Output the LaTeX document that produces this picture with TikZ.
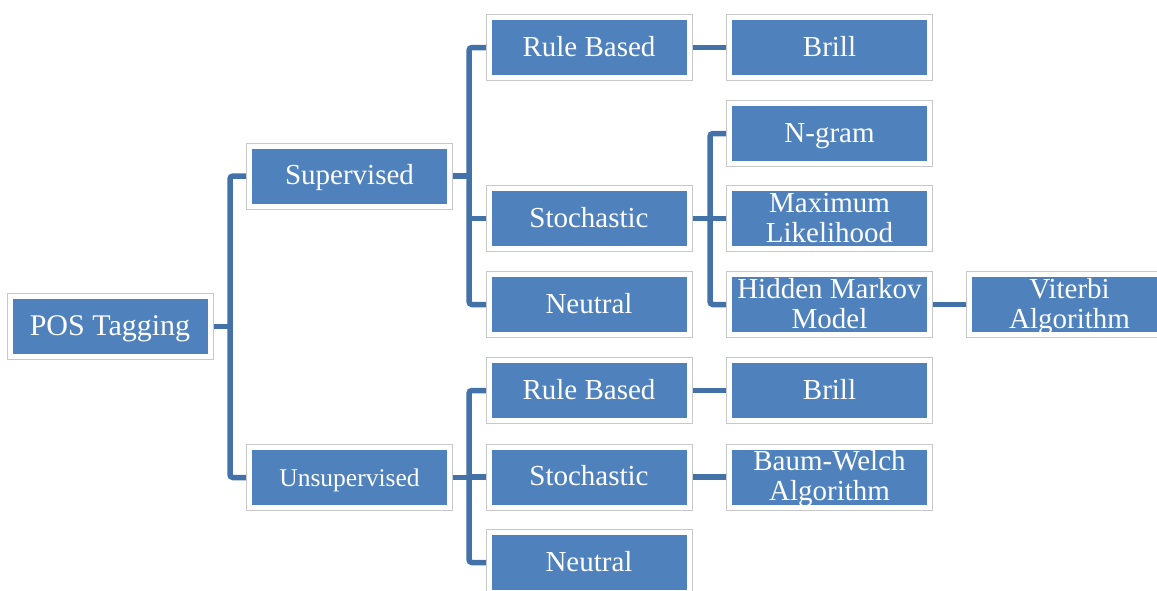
\documentclass[tikz,border=0pt]{standalone}
\usepackage{fontspec}
\setmainfont{Liberation Serif}
\usetikzlibrary{backgrounds}
\definecolor{boxblue}{RGB}{79,129,189}
\definecolor{linkblue}{RGB}{66,114,168}
\definecolor{framegray}{RGB}{200,200,200}
\begin{document}
\begin{tikzpicture}[x=1pt,y=-1pt,
  box/.style={rectangle, fill=boxblue, draw=white, line width=5pt,
    preaction={draw=framegray, line width=7pt},
    minimum width=200pt, minimum height=60pt, inner sep=0pt,
    text=white, align=center, font=\fontsize{29}{30}\selectfont},
  one/.style={text height=23pt, text depth=6pt},
  two/.style={text height=47pt, text depth=0pt},
  conn/.style={draw=linkblue, line width=5.5pt, rounded corners=3pt}]
\useasboundingbox (0,0) rectangle (1157,590);
\clip (0,0) rectangle (1157,590);
% trunk positions
\coordinate (t1) at (230,0);
\coordinate (t2) at (469,0);
\coordinate (t3) at (710,0);
% nodes
\node[box, one, font=\fontsize{30}{30}\selectfont] (pos) at (110,326.5) {POS Tagging};
\node[box, one] (sup) at (349.5,176) {Supervised};
\node[box, one, font=\fontsize{25.5}{26}\selectfont] (uns) at (349.5,477.5) {Unsupervised};
\node[box, one] (rb1) at (589,47.5) {Rule Based};
\node[box, one] (st1) at (589,218.5) {Stochastic};
\node[box, one] (ne1) at (589,304.5) {Neutral};
\node[box, one] (rb2) at (589,390.5) {Rule Based};
\node[box, one] (st2) at (589,477) {Stochastic};
\node[box, one] (ne2) at (589,562.5) {Neutral};
\node[box, one] (br1) at (829.5,47.5) {Brill};
\node[box, one] (ngr) at (829.5,133.5) {N-gram};
\node[box, two] (mle) at (829.5,218.5) {Maximum\\Likelihood};
\node[box, two] (hmm) at (829.5,304.5) {Hidden Markov\\Model};
\node[box, one] (br2) at (829.5,390.5) {Brill};
\node[box, two] (bwa) at (829.5,477) {Baum-Welch\\Algorithm};
\node[box, two] (vit) at (1069.5,304.5) {Viterbi\\Algorithm};
% connectors
\begin{scope}[on background layer]
\draw[conn] (pos.east) -- (pos.east -| t1);
\draw[conn] (sup.west) -- (sup.west -| t1) -- (uns.west -| t1) -- (uns.west);
\draw[conn] (sup.east) -- (sup.east -| t2);
\draw[conn] (rb1.west) -- (rb1.west -| t2) -- (ne1.west -| t2) -- (ne1.west);
\draw[conn] (st1.west) -- (st1.west -| t2);
\draw[conn] (uns.east) -- (uns.east -| t2);
\draw[conn] (rb2.west) -- (rb2.west -| t2) -- (ne2.west -| t2) -- (ne2.west);
\draw[conn] (st2.west) -- (st2.west -| t2);
\draw[conn] (st1.east) -- (st1.east -| t3);
\draw[conn] (ngr.west) -- (ngr.west -| t3) -- (hmm.west -| t3) -- (hmm.west);
\draw[conn] (mle.west) -- (mle.west -| t3);
\draw[conn] (rb1.east) -- (br1.west);
\draw[conn] (hmm.east) -- (vit.west);
\draw[conn] (rb2.east) -- (br2.west);
\draw[conn] (st2.east) -- (bwa.west);
\end{scope}
\end{tikzpicture}
\end{document}
